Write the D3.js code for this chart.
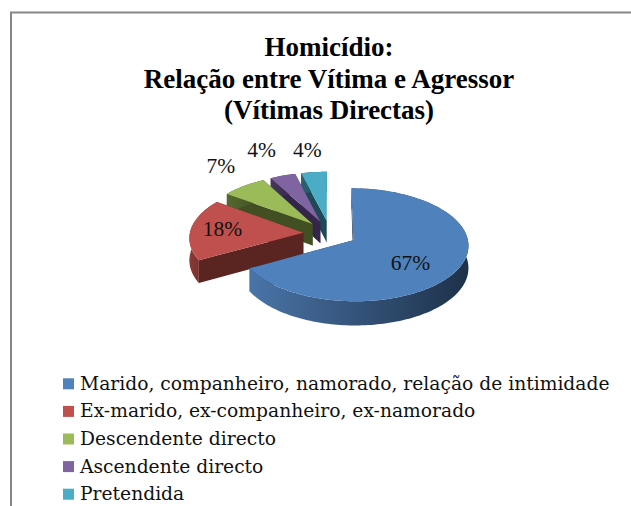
<!DOCTYPE html>
<html>
<head>
<meta charset="utf-8">
<script src="https://cdn.jsdelivr.net/npm/d3@7"></script>
<style>
  html, body { margin: 0; padding: 0; background: #fff; overflow: hidden; }
  svg { display: block; }
</style>
</head>
<body>
<div id="chart"></div>
<script>
const titleLines = ["Homicídio:", "Relação entre Vítima e Agressor", "(Vítimas Directas)"];
const categories = [
  "Marido, companheiro, namorado, relação de intimidade",
  "Ex-marido, ex-companheiro, ex-namorado",
  "Descendente directo",
  "Ascendente directo",
  "Pretendida"
];
const percents = [67, 18, 7, 4, 4];
const topColors = ["#4f81bd", "#c0504d", "#9bbb59", "#8064a2", "#4bacc6"];
const wallLight = ["#4a74a8", "#8a3a37", "#55682f", "#46365c", "#2a6272"];
const wallDark = ["#1d3149", "#572220", "#414f22", "#33264a", "#1e4a57"];
const cutColors = ["#1d3149", "#5a2421", "#414f22", "#33264a", "#1e4a57"];

const width = 631, height = 506;
const cx = 330, cy = 233.5;   // centre of the un-exploded pie
const rx = 113.5, ry = 55, wall = 22;
const persp = 0.081, explode = 0.236;

// label distance from the slice apex, as a fraction of the radius, then a nudge in px
const labelDist = [0.56, 0.62, 1.28, 1.42, 1.42];
const labelNudge = [[0, 6], [-11, -2], [-5, -11], [-7, -9], [-2, -4]];

const svg = d3.select("#chart").append("svg")
  .attr("width", width)
  .attr("height", height);

svg.append("path")
  .attr("d", `M11,${height}V12.5H${width}`)
  .attr("fill", "none")
  .attr("stroke", "#868686")
  .attr("stroke-width", 2);

// title
svg.append("g")
  .attr("font-family", "'Liberation Serif', serif")
  .attr("font-weight", "bold")
  .attr("font-size", 27)
  .attr("text-anchor", "middle")
  .attr("fill", "#000")
  .selectAll("text")
  .data(titleLines)
  .join("text")
  .attr("x", 329)
  .attr("y", (d, i) => 56 + i * 31.5)
  .text(d => d);

const pie = d3.pie().sort(null).value(d => d);
const arcs = pie(percents);

// model (u,v,z) -> screen, with a bit of perspective like the original 3D pie
function project(u, v, z) {
  const k = 1 / (1 - persp * v);
  return [cx + rx * u * k, cy + ry * v * k + wall * z * k];
}

function point(d, a, r, z) {
  const mid = (d.startAngle + d.endAngle) / 2;
  const u = explode * Math.sin(mid) + r * Math.sin(a);
  const v = -explode * Math.cos(mid) - r * Math.cos(a);
  return project(u, v, z);
}

function arcPoints(d, z) {
  const n = Math.max(4, Math.ceil((d.endAngle - d.startAngle) * 40));
  return d3.range(n + 1).map(i => point(d, d.startAngle + (d.endAngle - d.startAngle) * i / n, 1, z));
}

const line = d3.line();
const defs = svg.append("defs");

percents.forEach((p, i) => {
  const g = defs.append("linearGradient").attr("id", "wall" + i);
  g.append("stop").attr("offset", "0%").attr("stop-color", wallLight[i]);
  g.append("stop").attr("offset", "100%").attr("stop-color", wallDark[i]);
});

// back slices first, blue last
const slices = svg.append("g")
  .selectAll("g")
  .data(arcs.slice().reverse())
  .join("g");

slices.each(function(d) {
  const g = d3.select(this);
  const apex = z => point(d, 0, 0, z);
  [d.startAngle, d.endAngle].forEach(a => {
    g.append("path")
      .attr("d", line([apex(0), point(d, a, 1, 0), point(d, a, 1, 1), apex(1)]) + "Z")
      .attr("fill", cutColors[d.index]);
  });
  g.append("path")
    .attr("d", line(arcPoints(d, 0).concat(arcPoints(d, 1).reverse())) + "Z")
    .attr("fill", `url(#wall${d.index})`);
  g.append("path")
    .attr("d", line([apex(0)].concat(arcPoints(d, 0))) + "Z")
    .attr("fill", topColors[d.index]);
});

// data labels
svg.append("g")
  .attr("font-family", "'Liberation Serif', serif")
  .attr("font-size", 21.5)
  .attr("text-anchor", "middle")
  .attr("fill", "#111")
  .selectAll("text")
  .data(arcs)
  .join("text")
  .attr("transform", d => {
    const mid = (d.startAngle + d.endAngle) / 2;
    const [x, y] = point(d, mid, labelDist[d.index], 0);
    return `translate(${x + labelNudge[d.index][0]},${y + labelNudge[d.index][1]})`;
  })
  .attr("dy", "0.35em")
  .text(d => d.value + "%");

// legend
const legendY = d3.scaleBand()
  .domain(categories)
  .range([370, 508]);

const legend = svg.append("g")
  .selectAll("g")
  .data(categories)
  .join("g")
  .attr("transform", d => `translate(63,${legendY(d) + legendY.bandwidth() / 2})`);

legend.append("rect")
  .attr("y", -5.5)
  .attr("width", 11)
  .attr("height", 11)
  .attr("fill", (d, i) => topColors[i]);

legend.append("text")
  .attr("x", 17)
  .attr("dy", "0.32em")
  .attr("font-family", "'DejaVu Serif', serif")
  .attr("font-size", 18.7)
  .attr("fill", "#111")
  .text(d => d);
</script>
</body>
</html>
